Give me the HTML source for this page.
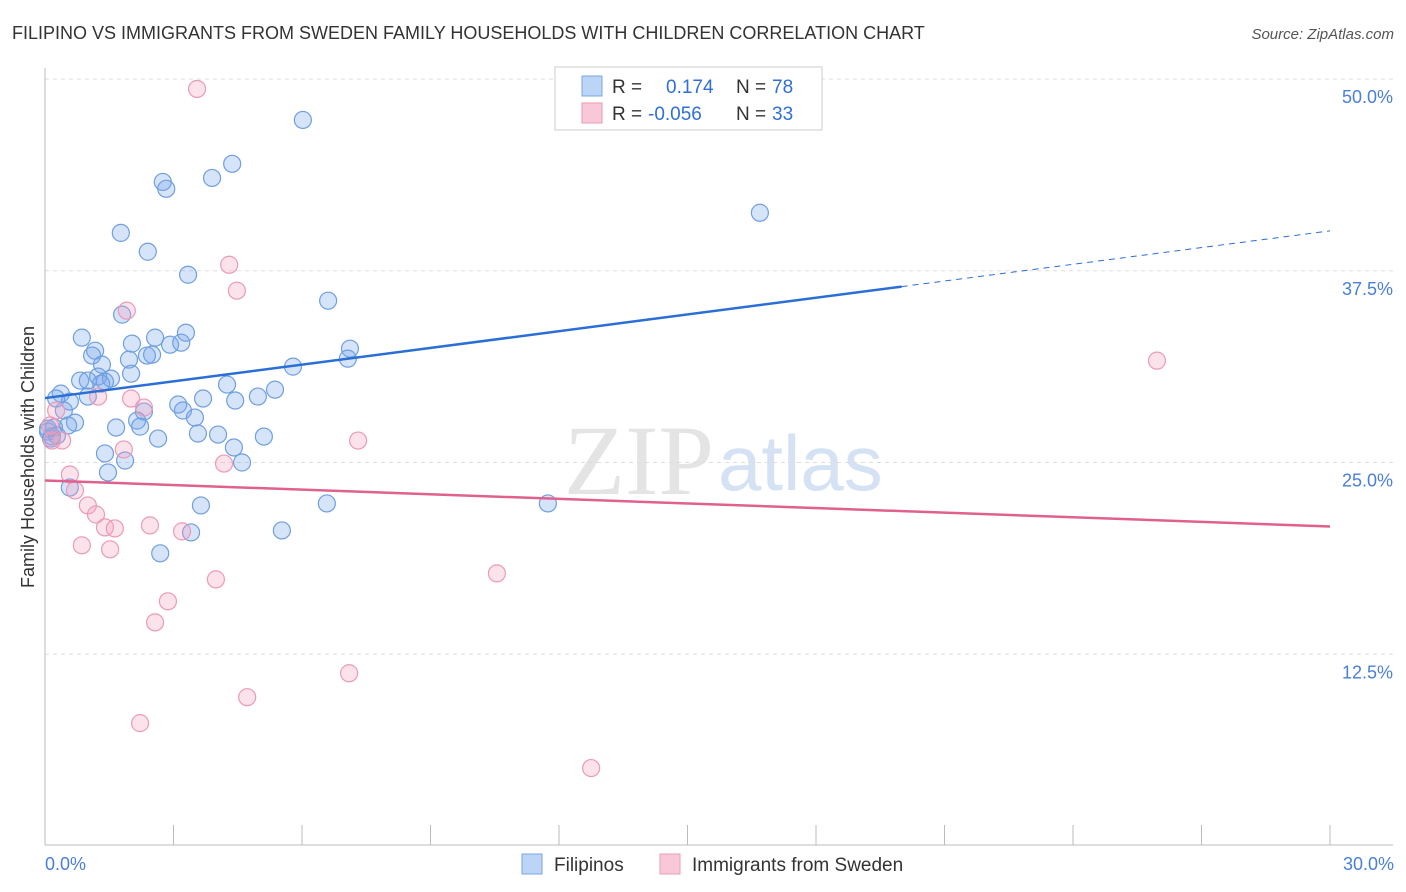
<!DOCTYPE html>
<html><head><meta charset="utf-8"><style>
body{margin:0;background:#fff;font-family:"Liberation Sans",sans-serif;}
svg{display:block}
</style></head><body>
<svg id="c" width="1406" height="892" xmlns="http://www.w3.org/2000/svg">
<text x="12" y="39" font-size="18" fill="#333">FILIPINO VS IMMIGRANTS FROM SWEDEN FAMILY HOUSEHOLDS WITH CHILDREN CORRELATION CHART</text>
<text x="1394" y="39" font-size="15" fill="#555" font-style="italic" text-anchor="end">Source: ZipAtlas.com</text>
<text x="714" y="494" font-size="100" fill="#e4e4e4" text-anchor="end" font-family="Liberation Serif">ZIP</text>
<text x="718" y="490" font-size="78" fill="#d4e2f4">atlas</text>
<g id="grid"></g>
<g id="pts"></g>
<g id="lines"></g>
<text transform="translate(34,457) rotate(-90)" font-size="18" fill="#333" text-anchor="middle">Family Households with Children</text>
<text x="45" y="870" font-size="18" fill="#4a7fd6">0.0%</text>
<text x="1394" y="870" font-size="18" fill="#4a7fd6" text-anchor="end">30.0%</text>
<g>
<rect x="555" y="67" width="267" height="63" fill="#fff" stroke="#ccc"/>
<rect x="582" y="76" width="20" height="20" fill="#bcd4f5" stroke="#7aa6e6"/>
<rect x="582" y="103" width="20" height="20" fill="#f9c8d8" stroke="#ea9bb6"/>
<text x="612" y="93" font-size="19" fill="#333">R = </text><text x="666" y="93" font-size="19" fill="#2f6fd6">0.174</text>
<text x="736" y="93" font-size="19" fill="#333">N = </text><text x="772" y="93" font-size="19" fill="#2f6fd6">78</text>
<text x="612" y="120" font-size="19" fill="#333">R = </text><text x="648" y="120" font-size="19" fill="#2f6fd6">-0.056</text>
<text x="736" y="120" font-size="19" fill="#333">N = </text><text x="772" y="120" font-size="19" fill="#2f6fd6">33</text>
</g>
<g>
<rect x="522" y="854" width="20" height="20" fill="#bcd4f5" stroke="#7aa6e6"/>
<text x="554" y="871" font-size="19" fill="#333">Filipinos</text>
<rect x="660" y="854" width="20" height="20" fill="#f9c8d8" stroke="#ea9bb6"/>
<text x="692" y="871" font-size="19" fill="#333">Immigrants from Sweden</text>
</g>
</svg>
<script>
const yTicks=[12.5,25,37.5,50];
const yTickLabels=["12.5%","25.0%","37.5%","50.0%"];
const xTicks=[0,3,6,9,12,15,18,21,24,27,30];
const blueX=[6.02,4.37,3.90,2.75,2.83,16.69,1.77,2.40,3.34,6.61,1.80,0.86,2.57,3.29,2.92,3.18,2.03,1.17,7.12,1.10,2.38,2.50,1.96,1.33,5.79,2.01,7.07,0.82,1.00,1.24,1.54,1.40,1.31,4.25,5.37,0.37,0.26,1.00,0.58,4.97,3.69,4.44,3.11,3.22,0.44,2.31,3.50,0.70,0.54,2.15,2.22,1.66,0.21,0.07,3.57,4.04,5.11,2.64,0.14,0.28,4.41,1.40,1.87,4.60,1.47,0.58,3.64,6.58,11.74,5.53,3.41,2.69,0.16,0.07];
const blueY=[47.33,44.47,43.55,43.29,42.84,41.28,39.97,38.74,37.24,35.55,34.64,33.14,33.14,33.46,32.68,32.81,32.75,32.29,32.42,31.97,31.97,32.03,31.71,31.38,31.25,30.79,31.77,30.34,30.34,30.60,30.47,30.27,30.14,30.08,29.75,29.49,29.17,29.30,28.97,29.30,29.17,29.04,28.78,28.39,28.39,28.32,27.93,27.60,27.41,27.73,27.34,27.28,27.28,27.02,26.89,26.82,26.69,26.56,26.56,26.76,25.98,25.59,25.13,25.00,24.35,23.37,22.20,22.33,22.33,20.57,20.44,19.08,26.7,27.2];
const pinkX=[3.55,4.30,4.48,1.91,2.01,1.24,2.31,0.26,0.12,0.40,7.31,4.18,0.58,0.70,1.00,1.19,1.40,1.63,2.45,3.20,0.86,1.52,1.84,3.99,10.55,2.87,2.57,25.96,7.10,4.72,2.22,12.75,0.16];
const pinkY=[49.35,37.89,36.20,34.90,29.17,29.30,28.58,28.39,27.41,26.43,26.43,24.93,24.22,23.18,22.20,21.61,20.77,20.70,20.90,20.51,19.60,19.34,25.85,17.38,17.77,15.95,14.58,31.64,11.26,9.70,8.01,5.08,26.43];
const blueTrend=[29.2,40.1], pinkTrend=[23.83,20.83];
const X=v=>45+v/30*1285, Y=v=>846-v/50*767;
const NS='http://www.w3.org/2000/svg';
function mk(p,t,a){const e=document.createElementNS(NS,t);for(const k in a)e.setAttribute(k,a[k]);p.appendChild(e);return e;}
const g=document.getElementById('grid');
yTicks.forEach((t,i)=>{
 const l=mk(g,'line',{x1:45,x2:1393,y1:Y(t),y2:Y(t),stroke:'#ddd','stroke-dasharray':'4,4'});
 
 
 const tx=mk(g,'text',{x:1393,y:Y(t)+24,'font-size':18,fill:'#4a7fd6','text-anchor':'end'});
 tx.textContent=yTickLabels[i];
 
 
});
mk(g,'line',{x1:45,x2:1393,y1:845,y2:845,stroke:'#bbb'});
mk(g,'line',{x1:45,x2:45,y1:68,y2:845,stroke:'#bbb'});
xTicks.forEach(t=>{const l=mk(g,'line',{x1:X(t),x2:X(t),y1:825,y2:845,stroke:'#bbb'});
 
 });
const p=document.getElementById('pts');
blueX.forEach((x,i)=>{const c=mk(p,'circle',{cx:X(x),cy:Y(blueY[i]),r:8.5,fill:'rgba(120,165,235,0.3)',stroke:'#6f9fe0','stroke-width':1.2});
 
 });
pinkX.forEach((x,i)=>{const c=mk(p,'circle',{cx:X(x),cy:Y(pinkY[i]),r:8.5,fill:'rgba(245,160,190,0.3)',stroke:'#eb9ab7','stroke-width':1.2});
 
 });
const L=document.getElementById('lines');
const by=x=>blueTrend[0]+(blueTrend[1]-blueTrend[0])*x/30;
let a=mk(L,'line',{x1:X(0),y1:Y(by(0)),x2:X(20),y2:Y(by(20)),stroke:'#2a6fd6','stroke-width':2.5});


a=mk(L,'line',{x1:X(20),y1:Y(by(20)),x2:X(30),y2:Y(by(30)),stroke:'#2a6fd6','stroke-width':1,'stroke-dasharray':'6,5'});


a=mk(L,'line',{x1:X(0),y1:Y(pinkTrend[0]),x2:X(30),y2:Y(pinkTrend[1]),stroke:'#e0608e','stroke-width':2.5});


</script>
</body></html>
